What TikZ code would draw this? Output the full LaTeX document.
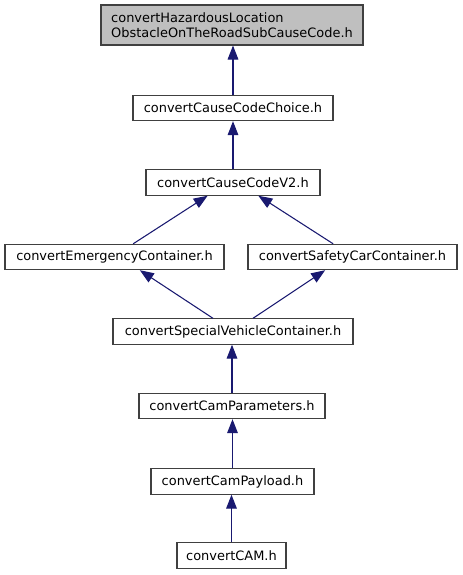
\documentclass[tikz,border=0pt]{standalone}
\usepackage{fontspec}
\setmainfont{DejaVu Sans}
\usetikzlibrary{arrows.meta}
\definecolor{grey25}{HTML}{404040}
\definecolor{grey75}{HTML}{BFBFBF}
\definecolor{midnightblue}{HTML}{191970}
\begin{document}
\begin{tikzpicture}[x=0.75pt, y=-0.75pt,
    hdr/.style={draw=grey25, fill=white, line width=0.8pt, inner sep=0pt,
        minimum height=19pt, font=\fontsize{9.7}{11.7}\selectfont},
    dep/.style={midnightblue, line width=0.8pt,
        -{Triangle[length=10.5pt, width=8pt]}}]
    \useasboundingbox (0,0) rectangle (463,575);
    % Included file
    \node[hdr, fill=grey75, minimum width=196.5pt, minimum height=30pt, align=left]
        (hazard) at (232,25) {convertHazardousLocation\\ObstacleOnTheRoadSubCauseCode.h};
    % Includers
    \node[hdr, minimum width=150pt] (choice) at (233,108) {convertCauseCodeChoice.h};
    \node[hdr, minimum width=130.5pt] (v2) at (233,182.5) {convertCauseCodeV2.h};
    \node[hdr, minimum width=164.25pt] (emerg) at (114.5,257) {convertEmergencyContainer.h};
    \node[hdr, minimum width=156.75pt] (safety) at (352.5,257) {convertSafetyCarContainer.h};
    \node[hdr, minimum width=180pt] (special) at (233,331.5) {convertSpecialVehicleContainer.h};
    \node[hdr, minimum width=139.5pt] (params) at (232,406) {convertCamParameters.h};
    \node[hdr, minimum width=122.25pt] (payload) at (232.5,481.5) {convertCamPayload.h};
    \node[hdr, minimum width=81.75pt] (cam) at (231.5,555.5) {convertCAM.h};
    % Include edges
    \draw[dep] (choice.north) -- (choice.north |- hazard.south);
    \draw[dep] (v2.north) -- (v2.north |- choice.south);
    \draw[dep] ([xshift=14pt]emerg.north) -- ([xshift=-19pt]v2.south);
    \draw[dep] ([xshift=-14.5pt]safety.north) -- ([xshift=19pt]v2.south);
    \draw[dep] ([xshift=-15pt]special.north) -- ([xshift=19pt]emerg.south);
    \draw[dep] ([xshift=15pt]special.north) -- ([xshift=-20.5pt]safety.south);
    \draw[dep] (params.north) -- (params.north |- special.south);
    \draw[dep] (payload.north) -- (payload.north |- params.south);
    \draw[dep] (cam.north) -- (cam.north |- payload.south);
\end{tikzpicture}
\end{document}
